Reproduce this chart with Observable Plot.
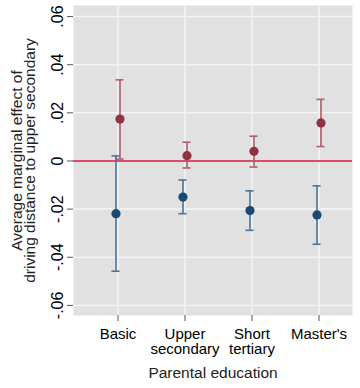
<!DOCTYPE html>
<html>
<head>
<meta charset="utf-8">
<script src="https://cdn.jsdelivr.net/npm/d3@7"></script>
<script src="https://cdn.jsdelivr.net/npm/@observablehq/plot@0.6"></script>
<style>
  html, body { margin: 0; padding: 0; background: #fff; }
  #chart svg { display: block; }
</style>
</head>
<body>
<div id="chart"></div>
<script>
const categories = ["Basic", "Upper\nsecondary", "Short\ntertiary", "Master's"];
const yTicks = [-0.06, -0.04, -0.02, 0, 0.02, 0.04, 0.06];

const redEst = [0.0174, 0.0022, 0.0040, 0.0158];
const redLo  = [0.0008, -0.0029, -0.0025, 0.0060];
const redHi  = [0.0337, 0.0078, 0.0103, 0.0256];

const blueEst = [-0.0219, -0.0150, -0.0206, -0.0224];
const blueLo  = [-0.0458, -0.0219, -0.0288, -0.0346];
const blueHi  = [0.0021, -0.0079, -0.0124, -0.0103];

const yTitle = "Average marginal effect of\ndriving distance to upper secondary";
const xTitle = "Parental education";

const pos = categories.map((c, i) => i + 1);
const red = pos.map((x, i) => ({x, est: redEst[i], lo: redLo[i], hi: redHi[i]}));
const blue = pos.map((x, i) => ({x, est: blueEst[i], lo: blueLo[i], hi: blueHi[i]}));

const capHalf = 0.06;
const redDot = "#90323f", redBar = "#ad5e68";
const blueDot = "#1a4a72", blueBar = "#4f7396";
const font = "'Liberation Sans', Arial, sans-serif";

function series(data, dot, bar, dx) {
  return [
    Plot.ruleX(data, {x: "x", y1: "lo", y2: "hi", stroke: bar, strokeWidth: 1.6, dx}),
    Plot.ruleY(data, {y: "lo", x1: d => d.x - capHalf, x2: d => d.x + capHalf, stroke: bar, strokeWidth: 1.6, dx}),
    Plot.ruleY(data, {y: "hi", x1: d => d.x - capHalf, x2: d => d.x + capHalf, stroke: bar, strokeWidth: 1.6, dx}),
    Plot.dot(data, {x: "x", y: "est", r: 4.6, fill: dot, stroke: "none", dx})
  ];
}

const chart = Plot.plot({
  width: 360,
  height: 388,
  marginLeft: 73,
  marginRight: 8,
  marginTop: 5,
  marginBottom: 73,
  style: {fontFamily: font, fontSize: "15.5px", color: "#000", background: "transparent"},
  x: {domain: [0.336, 4.5]},
  y: {domain: [-0.0642, 0.0646]},
  marks: [
    Plot.frame({fill: "#e1e1e1", stroke: "none"}),
    Plot.gridY(yTicks, {stroke: "#f4f4f4", strokeOpacity: 1, strokeWidth: 1.5}),
    Plot.gridX(pos, {stroke: "#f4f4f4", strokeOpacity: 1, strokeWidth: 1.5}),
    Plot.ruleY([0], {stroke: "#d6153f", strokeWidth: 1.5}),
    ...series(red, redDot, redBar, 2),
    ...series(blue, blueDot, blueBar, -2),
    Plot.axisY({
      ticks: yTicks,
      tickFormat: d => d === 0 ? "0" : d3.format(".2f")(d).replace("\u2212", "-").replace("0.", "."),
      tickRotate: -90,
      tickSize: 6,
      tickPadding: 5,
      stroke: "#555",
      fontSize: 16,
      label: null
    }),
    Plot.axisX({
      ticks: pos,
      tickFormat: d => categories[d - 1],
      tickSize: 6,
      tickPadding: 7,
      stroke: "#555",
      fontSize: 15,
      lineHeight: 0.98,
      label: null
    }),
    Plot.text([yTitle], {
      frameAnchor: "left",
      textAnchor: "middle",
      rotate: -90,
      dx: -49,
      fontSize: 15.5,
      lineHeight: 0.86,
      fill: "#222"
    }),
    Plot.text([xTitle], {
      frameAnchor: "bottom",
      dy: 62,
      fontSize: 15.5,
      fill: "#222"
    })
  ]
});

document.getElementById("chart").append(chart);
</script>
</body>
</html>
